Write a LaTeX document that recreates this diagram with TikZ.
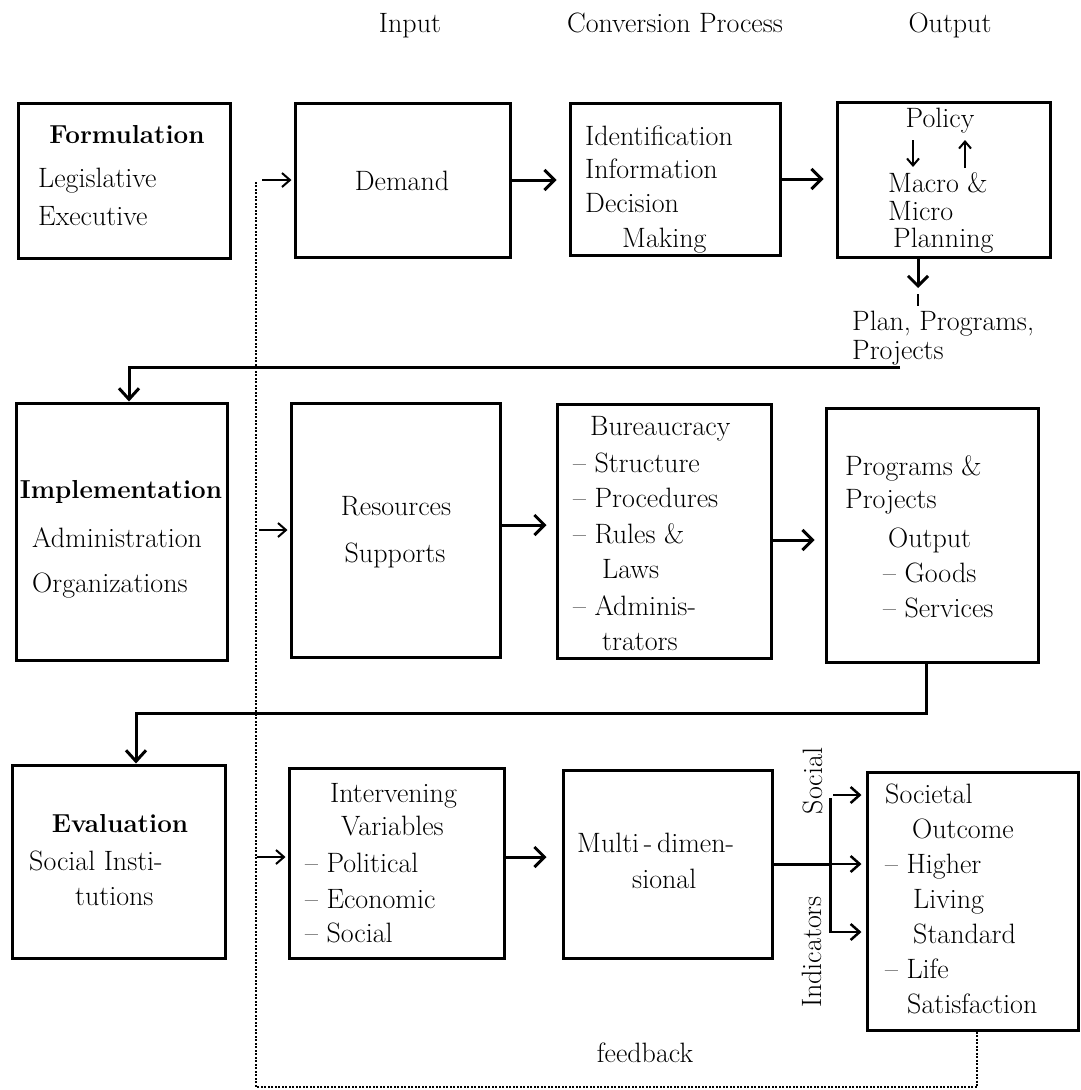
\documentclass[tikz,border=0pt]{standalone}
\usepackage{fontspec}
\usetikzlibrary{arrows.meta,fit}
\newcommand\fs{\fontsize{28}{34}\selectfont}
\newcommand\fsb{\fontsize{26}{34}\selectfont\bfseries}
\tikzset{
  box/.style={draw, line width=3pt, inner sep=0pt},
  txt/.style={inner sep=0pt, anchor=base west, font=\fs},
  ctxt/.style={inner sep=0pt, anchor=base, font=\fs},
  btxt/.style={inner sep=0pt, anchor=base, font=\fsb},
  arr/.style={line width=3pt, -{Straight Barb[length=10pt,width=20pt]}},
  darr/.style={line width=3pt, -{Straight Barb[length=11pt,width=20pt]}},
  farr/.style={line width=2pt, -{Straight Barb[length=8pt,width=14pt]}},
  sarr/.style={line width=2pt, -{Straight Barb[length=7pt,width=12pt]}},
  iarr/.style={line width=2.5pt, -{Straight Barb[length=9pt,width=16pt]}},
  conn/.style={line width=3pt},
  fb/.style={line width=1.2pt, dash pattern=on 2pt off 1.5pt},
}
\begin{document}
\begin{tikzpicture}[x=1pt,y=-1pt]
\useasboundingbox (0,0) rectangle (1080,1090);
% header
\node[ctxt] (hIn) at (410,32) {Input};
\node[ctxt] (hConv) at (675,32) {Conversion Process};
\node[ctxt] (hOut) at (950,32) {Output};
% boxes
\node[box, fit={(18,103) (230,258)}] (F) {};
\node[box, fit={(295,103) (510,257)}] (D) {};
\node[box, fit={(570,103) (780,255)}] (I) {};
\node[box, fit={(837,102) (1050,257)}] (P) {};
\node[box, fit={(16,403) (227,660)}] (Imp) {};
\node[box, fit={(291,403) (500,657)}] (R) {};
\node[box, fit={(557,404) (771,658)}] (B) {};
\node[box, fit={(826,408) (1038,662)}] (Pr) {};
\node[box, fit={(12,765) (225,958)}] (E) {};
\node[box, fit={(289,768) (504,958)}] (IV) {};
\node[box, fit={(563,770) (772,958)}] (M) {};
\node[box, fit={(867,772) (1078,1030)}] (S) {};
% row 1 texts
\node[btxt] (f1) at (127,143) {Formulation};
\node[txt] (f2) at (38,187) {Legislative};
\node[txt] (f3) at (38,225) {Executive};
\node[ctxt] (d1) at (402,190) {Demand};
\node[txt] (i1) at (585,145) {Identification};
\node[txt] (i2) at (585,178) {Information};
\node[txt] (i3) at (585,212) {Decision};
\node[txt] (i4) at (622,247) {Making};
\node[ctxt] (p1) at (940,127) {Policy};
\node[txt] (p2) at (888,192) {Macro \&};
\node[txt] (p3) at (888,220) {Micro};
\node[txt] (p4) at (893,247) {Planning};
\node[txt] (pp1) at (852,330) {Plan, Programs,};
\node[txt] (pp2) at (852,359) {Projects};
% row 2 texts
\node[btxt, fill=white, inner sep=1pt] (m1) at (121,498) {Implementation};
\node[txt] (m2) at (32,547) {Administration};
\node[txt] (m3) at (32,592) {Organizations};
\node[ctxt] (r1) at (396,515) {Resources};
\node[ctxt] (r2) at (395,562) {Supports};
\node[txt] (b1) at (590,435) {Bureaucracy};
\node[txt] (b2) at (573,472) {– Structure};
\node[txt] (b3) at (573,507) {– Procedures};
\node[txt] (b4) at (573,543) {– Rules \&};
\node[txt] (b5) at (602,578) {Laws};
\node[txt] (b6) at (573,615) {– Adminis-};
\node[txt] (b7) at (602,650) {trators};
\node[txt] (g1) at (845,475) {Programs \&};
\node[txt] (g2) at (845,508) {Projects};
\node[txt] (g3) at (888,547) {Output};
\node[txt] (g4) at (883,582) {– Goods};
\node[txt] (g5) at (883,617) {– Services};
% row 3 texts
\node[btxt] (e1) at (120,832) {Evaluation};
\node[txt] (e2) at (29,870) {Social Insti-};
\node[txt] (e3) at (75,905) {tutions};
\node[txt] (v1) at (330,802) {Intervening};
\node[txt] (v2) at (341,835) {Variables};
\node[txt] (v3) at (305,872) {– Political};
\node[txt] (v4) at (305,908) {– Economic};
\node[txt] (v5) at (305,942) {– Social};
\node[txt] (u1) at (577,852) {Multi\,-\,dimen-};
\node[txt] (u2) at (632,888) {sional};
\node[txt] (s1) at (885,803) {Societal};
\node[txt] (s2) at (912,838) {Outcome};
\node[txt] (s3) at (885,873) {– Higher};
\node[txt] (s4) at (913,908) {Living};
\node[txt] (s5) at (913,943) {Standard};
\node[txt] (s6) at (885,978) {– Life};
\node[txt] (s7) at (907,1013) {Satisfaction};
\node[ctxt] (fbt) at (645,1062) {feedback};
\node[font=\fs, rotate=90, inner sep=0pt] (soc) at (813,781) {Social};
\node[font=\fs, rotate=90, inner sep=0pt] (ind) at (812,952) {Indicators};
% main arrows
\coordinate (di) at (D.east |- 0,180);
\draw[arr, shorten >=12pt] (di) -- (di -| I.west);
\coordinate (ip) at (I.east |- 0,179);
\draw[arr, shorten >=12pt] (ip) -- (ip -| P.west);
\coordinate (rb) at (R.east |- 0,525);
\draw[arr, shorten >=9pt] (rb) -- (rb -| B.west);
\coordinate (bp) at (B.east |- 0,540);
\draw[arr, shorten >=10pt] (bp) -- (bp -| Pr.west);
\coordinate (vm) at (IV.east |- 0,857);
\draw[arr, shorten >=15pt] (vm) -- (vm -| M.west);
% policy internal arrows
\coordinate (pa1) at (913,140);
\coordinate (pa2) at (913,167);
\coordinate (pb1) at (965,168);
\coordinate (pb2) at (965,140);
\draw[sarr] (pa1) -- (pa2);
\draw[sarr] (pb1) -- (pb2);
% policy down arrow and tick
\coordinate (pd1) at (P.south -| 918,0);
\coordinate (pd2) at (918,288);
\draw[arr] (pd1) -- (pd2);
\coordinate (tk1) at (918,294);
\coordinate (tk2) at (918,306);
\draw[line width=2.5pt] (tk1) -- (tk2);
% connector to implementation
\coordinate (c1) at (900,367);
\draw[darr] (c1) -| ([xshift=7.5pt]Imp.north);
% connector to evaluation
\coordinate (c2a) at (Pr.south -| 926,0);
\coordinate (c2b) at (926,713);
\draw[darr] (c2a) -- (c2b) -| ([xshift=17.5pt]E.north);
% indicators
\coordinate (bar1) at (830,798);
\coordinate (bar2) at (830,933);
\coordinate (barm) at (830,864);
\draw[conn] (M.east) -- (barm);
\draw[conn] (bar1) -- (bar2);
\coordinate (ia) at (833,795);
\coordinate (ib) at (830,864);
\coordinate (ic) at (830,932);
\draw[iarr, shorten >=4pt] (ia) -- (ia -| S.west);
\draw[iarr, shorten >=4pt] (ib) -- (ib -| S.west);
\draw[iarr, shorten >=4pt] (ic) -- (ic -| S.west);
% feedback loop
\coordinate (fbA) at (256,180);
\coordinate (fbB) at (256,530);
\coordinate (fbC) at (256,857);
\coordinate (fbS) at ([xshift=4.5pt]S.south);
\coordinate (fbD) at (977,1087);
\draw[fb] (fbS) -- (fbD) -| (fbA);
\draw[farr, shorten <=6pt, shorten >=2pt] (fbA) -- (fbA -| D.west);
\draw[farr, shorten <=3pt, shorten >=2pt] (fbB) -- (fbB -| R.west);
\draw[farr, shorten <=1pt, shorten >=2pt] (fbC) -- (fbC -| IV.west);
\end{tikzpicture}
\end{document}
